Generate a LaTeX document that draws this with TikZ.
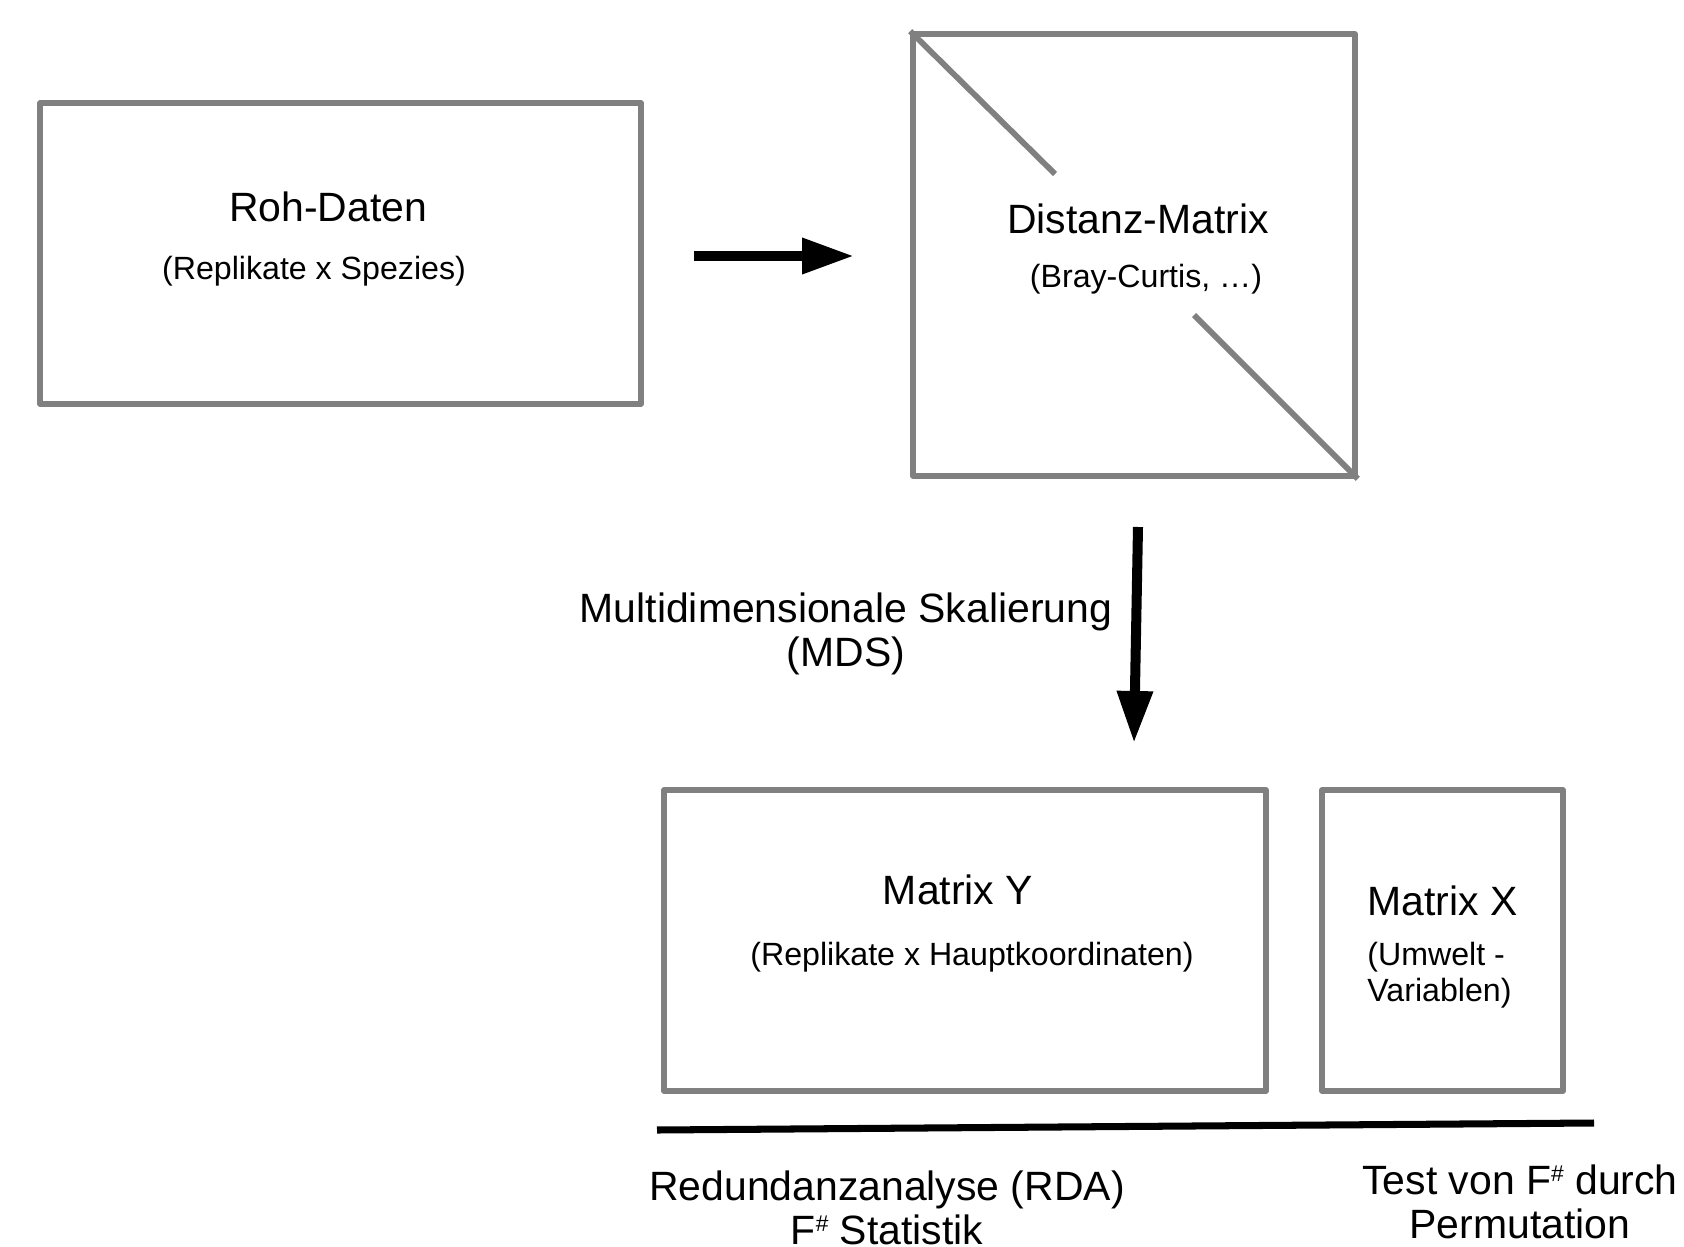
\documentclass[tikz,border=0pt]{standalone}
\usepackage{fontspec}
\setmainfont{Liberation Sans}
\usetikzlibrary{arrows.meta}
\newcommand{\fhash}{F\raisebox{0.33em}{\fontsize{13pt}{13pt}\selectfont\#}}

\begin{document}
\begin{tikzpicture}[x=0.02cm,y=-0.02cm,
    box/.style={draw=gray,line width=3.3pt,line join=round,rectangle,inner sep=0pt},
    big/.style={font=\fontsize{23.3}{25}\selectfont,inner sep=0pt},
    small/.style={font=\fontsize{18.3}{20.5}\selectfont,inner sep=0pt},
    fat/.style={line width=5.7pt,-{Triangle[length=29.6pt,width=19.3pt]}}]
  \useasboundingbox (0,0) rectangle (1684,1247);
  % boxes
  \node[box,minimum width=12.02cm,minimum height=6.02cm] (roh) at (340.5,253.5) {};
  \node[box,minimum width=8.84cm,minimum height=8.84cm] (dist) at (1134,255) {};
  \node[box,minimum width=12.04cm,minimum height=6.02cm] (maty) at (965,940.5) {};
  \node[box,minimum width=4.82cm,minimum height=6.02cm] (matx) at (1442.5,940.5) {};
  \coordinate (d1) at (1055,174);
  \coordinate (d2) at (1194,315);
  \draw[draw=gray,line width=3.3pt] (dist.north west) -- (d1);
  \draw[draw=gray,line width=3.3pt] (d2) -- (dist.south east);
  % texts
  \node[big] (rohtitle) at (328,207) {Roh-Daten};
  \node[small] (rohsub) at (314,271) {(Replikate x Spezies)};
  \node[big] (disttitle) at (1138,219) {Distanz-Matrix};
  \node[small] (distsub) at (1146,279) {(Bray-Curtis, …)};
  \node[big,align=center] (mds) at (846,634) {Multidimensionale Skalierung\\(MDS)};
  \node[big] (ytitle) at (958,890) {Matrix Y};
  \node[small] (ysub) at (972,957) {(Replikate x Hauptkoordinaten)};
  \node[big,anchor=west] (xtitle) at (1367,901) {Matrix X};
  \node[small,anchor=west,align=left] (xsub) at (1367,975) {(Umwelt -\\Variablen)};
  \node[big,align=center] (rda) at (887,1208) {Redundanzanalyse (RDA)\\\fhash{} Statistik};
  \node[big,align=center] (perm) at (1520,1202) {Test von \fhash{} durch\\Permutation};
  % arrows
  \coordinate (a1) at (694,256);
  \coordinate (a2) at (854,256);
  \draw[fat] (a1) -- (a2);
  \coordinate (b1) at (1138,527);
  \coordinate (b2) at (1134,743);
  \draw[fat] (b1) -- (b2);
  \coordinate (l1) at (657,1130);
  \coordinate (l2) at (1594,1123);
  \draw[line width=4pt] (l1) -- (l2);
\end{tikzpicture}
\end{document}
